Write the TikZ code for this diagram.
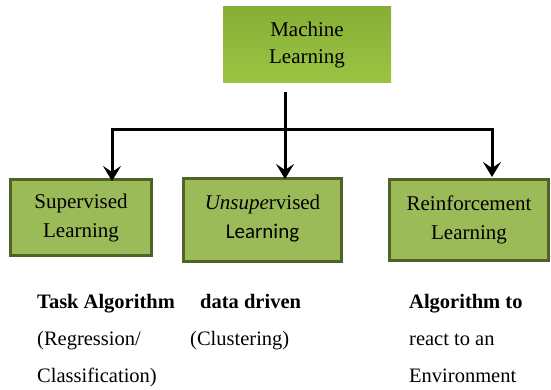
\documentclass[tikz,border=0pt]{standalone}
\usepackage{fontspec}
\setmainfont{Liberation Serif}
\newfontfamily\calib{Carlito}
\usetikzlibrary{arrows.meta}
\definecolor{boxfill}{HTML}{9BBB59}
\definecolor{boxedge}{HTML}{4F6228}
\definecolor{topA}{HTML}{86AE36}
\definecolor{topB}{HTML}{9CC443}
\tikzset{
  greenbox/.style={draw=boxedge, line width=3pt, fill=boxfill, align=center,
    inner sep=0pt, font=\fontsize{21}{29}\selectfont},
  topbox/.style={top color=topA, bottom color=topB, align=center, inner sep=0pt,
    font=\fontsize{21}{27}\selectfont},
  conn/.style={line width=3pt, black},
  arr/.style={conn, -{Stealth[length=15pt, width=18pt, inset=6pt]}},
  lbl/.style={anchor=base west, inner sep=0pt, font=\fontsize{20.5}{37}\selectfont},
}
\begin{document}
\begin{tikzpicture}[x=1pt, y=-1pt]
\useasboundingbox (0,0) rectangle (551,390);
\node[topbox, minimum width=168pt, minimum height=76pt] (ml) at (307,45) {Machine\\Learning};
\node[greenbox, minimum width=141pt, minimum height=76pt] (sup) at (81,217.5) {Supervised\\Learning};
\node[greenbox, minimum width=158pt, minimum height=83pt, text depth=7pt] (uns) at (262.5,220) {\textit{Unsupe}rvised\\{\calib Learning}};
\node[greenbox, minimum width=159pt, minimum height=81pt] (rei) at (469,220) {Reinforcement\\Learning};
\coordinate (j) at (285,130);
\coordinate (jl) at (112,130);
\coordinate (jr) at (492,130);
\draw[conn] ([yshift=-9pt]ml.south -| j) -- (j);
\draw[conn, line cap=rect] (jl) -- (jr);
\draw[arr] (jl) -- ([yshift=-3pt]sup.north -| jl);
\draw[arr] (j) -- ([yshift=-2pt]uns.north -| j);
\draw[arr] (jr) -- ([yshift=1pt]rei.north -| jr);
\node[lbl, font=\fontsize{20.5}{37}\selectfont\bfseries] (t1) at (37,308) {Task Algorithm};
\node[lbl] (t2) at (37,345) {(Regression/};
\node[lbl] (t3) at (37,382) {Classification)};
\node[lbl, font=\fontsize{20.5}{37}\selectfont\bfseries] (d1) at (200,308) {data driven};
\node[lbl] (d2) at (190,345) {(Clustering)};
\node[lbl, font=\fontsize{20.5}{37}\selectfont\bfseries] (r1) at (409,308) {Algorithm to};
\node[lbl] (r2) at (409,345) {react to an};
\node[lbl] (r3) at (409,382) {Environment};
\end{tikzpicture}
\end{document}
